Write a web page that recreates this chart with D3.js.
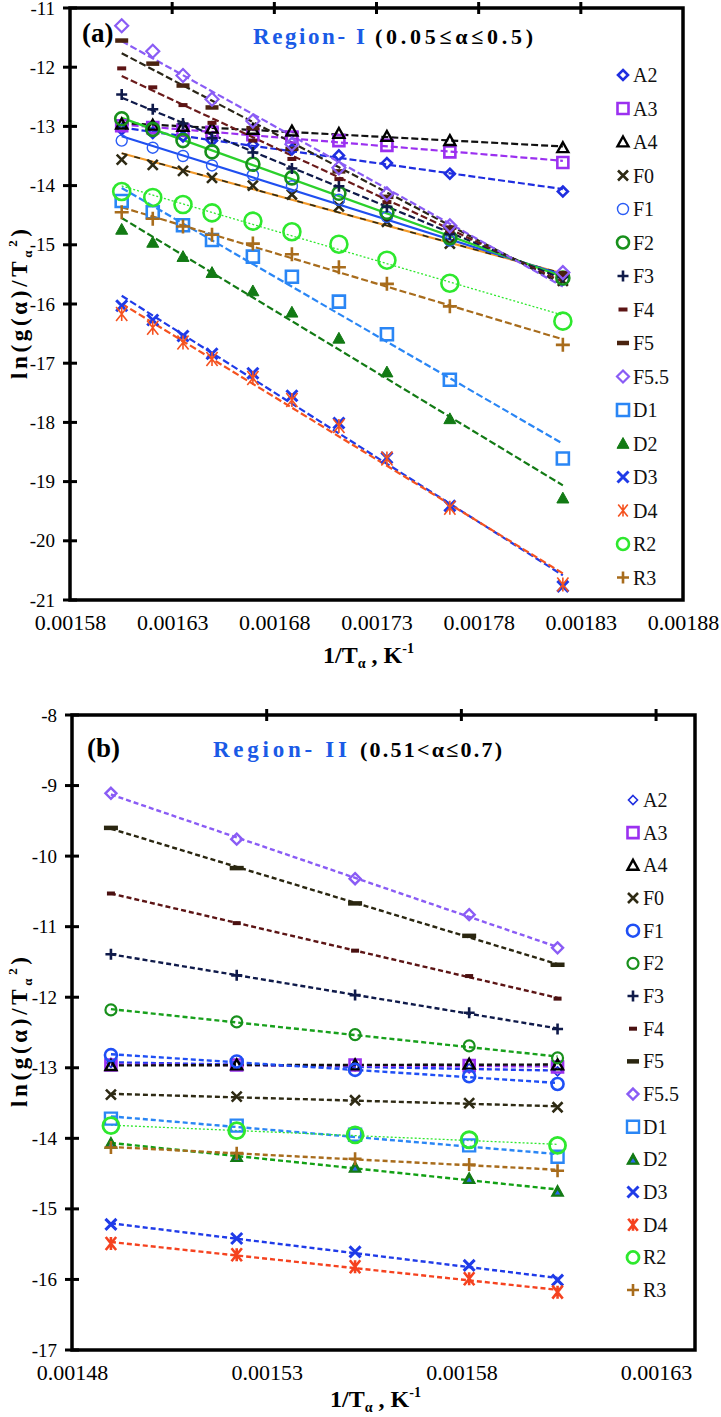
<!DOCTYPE html>
<html><head><meta charset="utf-8">
<script src="https://cdn.jsdelivr.net/npm/d3@7"></script>
<style>body{margin:0;background:#fff}svg{display:block}</style>
</head><body>
<svg id="chart" width="721" height="1417"></svg>
<script>
// ---------- DATA ----------
const seriesNames = ["A2","A3","A4","F0","F1","F2","F3","F4","F5","F5.5","D1","D2","D3","D4","R2","R3"];

// Panel (a) Region I
const xTickValuesA = [0.00158,0.00163,0.00168,0.00173,0.00178,0.00183,0.00188];
const xTickLabelsA = ["0.00158","0.00163","0.00168","0.00173","0.00178","0.00183","0.00188"];
const yTickValuesA = [-11,-12,-13,-14,-15,-16,-17,-18,-19,-20,-21];
const invTA = [0.0016053,0.0016205,0.0016353,0.0016495,0.0016695,0.0016886,0.0017116,0.0017351,0.0017659,0.0018212];
const aA2  = [-13.05,-13.11,-13.17,-13.24,-13.31,-13.39,-13.49,-13.62,-13.80,-14.10];
const aA3  = [-12.99,-13.02,-13.06,-13.10,-13.14,-13.18,-13.24,-13.32,-13.43,-13.61];
const aA4  = [-12.96,-12.98,-13.00,-13.03,-13.05,-13.08,-13.12,-13.17,-13.24,-13.36];
const aF0  = [-13.56,-13.65,-13.75,-13.87,-14.00,-14.15,-14.35,-14.61,-14.98,-15.61];
const aF1  = [-13.24,-13.36,-13.50,-13.66,-13.82,-14.01,-14.24,-14.53,-14.93,-15.59];
const aF2  = [-12.87,-13.05,-13.24,-13.43,-13.64,-13.87,-14.13,-14.45,-14.88,-15.56];
const aF3  = [-12.46,-12.71,-12.95,-13.20,-13.44,-13.71,-14.01,-14.36,-14.82,-15.54];
const aF4  = [-12.02,-12.34,-12.64,-12.94,-13.24,-13.55,-13.89,-14.28,-14.77,-15.51];
const aF5  = [-11.55,-11.94,-12.31,-12.68,-13.03,-13.38,-13.76,-14.19,-14.71,-15.48];
const aF55 = [-11.30,-11.73,-12.14,-12.54,-12.91,-13.30,-13.70,-14.14,-14.68,-15.47];
const aD1  = [-14.26,-14.45,-14.67,-14.92,-15.20,-15.54,-15.96,-16.51,-17.28,-18.61];
const aD2  = [-14.74,-14.96,-15.20,-15.47,-15.78,-16.14,-16.58,-17.15,-17.94,-19.28];
const aD3  = [-16.03,-16.27,-16.54,-16.84,-17.17,-17.55,-18.01,-18.60,-19.41,-20.77];
const aD4  = [-16.17,-16.40,-16.65,-16.93,-17.25,-17.62,-18.06,-18.61,-19.44,-20.74];
const aR2  = [-14.10,-14.20,-14.32,-14.46,-14.60,-14.78,-14.99,-15.26,-15.65,-16.29];
const aR3  = [-14.45,-14.56,-14.69,-14.83,-14.98,-15.16,-15.38,-15.66,-16.04,-16.69];

// Panel (b) Region II
const xTickValuesB = [0.00148,0.00153,0.00158,0.00163];
const xTickLabelsB = ["0.00148","0.00153","0.00158","0.00163"];
const yTickValuesB = [-8,-9,-10,-11,-12,-13,-14,-15,-16,-17];
const invTB = [0.00149,0.0015223,0.0015527,0.001582,0.0016047];
const bA2  = [-12.93,-12.95,-12.98,-13.01,-13.05];
const bA3  = [-12.96,-12.96,-12.96,-12.97,-12.99];
const bA4  = [-12.97,-12.96,-12.96,-12.95,-12.96];
const bF0  = [-13.38,-13.41,-13.46,-13.50,-13.56];
const bF1  = [-12.82,-12.91,-13.03,-13.12,-13.23];
const bF2  = [-12.18,-12.35,-12.53,-12.69,-12.86];
const bF3  = [-11.39,-11.69,-11.97,-12.22,-12.45];
const bF4  = [-10.53,-10.95,-11.34,-11.70,-12.02];
const bF5  = [-9.60,-10.17,-10.67,-11.13,-11.54];
const bF55 = [-9.11,-9.76,-10.32,-10.83,-11.30];
const bD1  = [-13.72,-13.82,-13.95,-14.10,-14.26];
const bD2  = [-14.07,-14.26,-14.41,-14.57,-14.75];
const bD3  = [-15.22,-15.42,-15.61,-15.80,-16.01];
const bD4  = [-15.49,-15.65,-15.82,-15.99,-16.18];
const bR2  = [-13.82,-13.89,-13.95,-14.02,-14.10];
const bR3  = [-14.13,-14.21,-14.29,-14.37,-14.46];

// ---------- STYLES ----------
const serif = "Liberation Serif, Times New Roman, serif";
const stylesA = {
  "A2":  {m:"diamond", s:5,   c:"#1f2ee0", sw:2.6, lc:"#1f2ee0", dash:"7,3"},
  "A3":  {m:"square",  s:5.5, c:"#9b30f0", sw:2.6, lc:"#9b30f0", dash:"7,3"},
  "A4":  {m:"triangle",s:5.5, c:"#000000", sw:2.4, lc:"#111111", dash:"7,3"},
  "F0":  {m:"x",       s:5,   c:"#2e2a14", sw:2.6, lc:"#f39a2a", dash:null, extra:"#2e2a14"},
  "F1":  {m:"circle",  s:5.5, c:"#2a5cf5", sw:1.4, lc:"#1f4ff0", dash:null},
  "F2":  {m:"circle",  s:6.5, c:"#18901c", sw:2.6, lc:"#2bd02b", dash:null},
  "F3":  {m:"plus",    s:5.5, c:"#0f1a4a", sw:2.6, lc:"#0f1a4a", dash:"7,3"},
  "F4":  {m:"dash",    s:4.5, c:"#5c1414", sw:4,   lc:"#6a1a1a", dash:"7,3"},
  "F5":  {m:"dash",    s:6.5, c:"#4a2410", sw:4.5, lc:"#2a2618", dash:"7,3"},
  "F5.5":{m:"diamond", s:6.5, c:"#8a5cf5", sw:2.2, lc:"#8a5cf5", dash:"7,3"},
  "D1":  {m:"square",  s:6,   c:"#2a86f5", sw:2.6, lc:"#2a86f5", dash:"7,3"},
  "D2":  {m:"triFill", s:6,   c:"#127a14", sw:1,   lc:"#127a14", dash:"7,3"},
  "D3":  {m:"x",       s:5.5, c:"#1f3be8", sw:3,   lc:"#1f3be8", dash:"7,3"},
  "D4":  {m:"asterisk",s:7,   c:"#f5521f", sw:1.6, lc:"#f5521f", dash:"7,3"},
  "R2":  {m:"circle",  s:8.5, c:"#2ee82e", sw:2.6, lc:"#2ee82e", dash:"2,2", lw:1.3},
  "R3":  {m:"plus",    s:7,   c:"#a86c1c", sw:2.6, lc:"#a86c1c", dash:"7,3"}
};
const stylesB = {
  "A2":  {m:"diamond", s:4.5, c:"#1f2ee0", sw:1.6, lc:"#1f3ef0", dash:"5,3"},
  "A3":  {m:"square",  s:5.5, c:"#9b30f0", sw:2.6, lc:"#9b30f0", dash:"5,3"},
  "A4":  {m:"triangle",s:5.5, c:"#000000", sw:2.4, lc:"#111111", dash:"5,3"},
  "F0":  {m:"x",       s:5,   c:"#2e2a14", sw:2.6, lc:"#2e2a14", dash:"5,3"},
  "F1":  {m:"circle",  s:6,   c:"#1f4ff5", sw:2.6, lc:"#1f4ff5", dash:"5,3"},
  "F2":  {m:"circle",  s:5.5, c:"#18901c", sw:2.2, lc:"#18a01c", dash:"5,3"},
  "F3":  {m:"plus",    s:5.5, c:"#0f1a4a", sw:2.6, lc:"#0f1a4a", dash:"5,3"},
  "F4":  {m:"dash",    s:4,   c:"#4a1010", sw:4,   lc:"#5c1414", dash:"5,3"},
  "F5":  {m:"dash",    s:7,   c:"#2a2610", sw:4.5, lc:"#2a2610", dash:"5,3"},
  "F5.5":{m:"diamond", s:5.5, c:"#8a5cf5", sw:2.4, lc:"#8a5cf5", dash:"5,3"},
  "D1":  {m:"square",  s:6,   c:"#2a86f5", sw:2.4, lc:"#2a86f5", dash:"5,3"},
  "D2":  {m:"triFill", s:6,   c:"#127a14", sw:1.2, lc:"#12a014", dash:"5,3", inner:"#2a6af0"},
  "D3":  {m:"x",       s:5.5, c:"#1f3be8", sw:3,   lc:"#1f3be8", dash:"5,3"},
  "D4":  {m:"asterisk",s:6.5, c:"#f5421f", sw:2.6, lc:"#f5421f", dash:"5,3"},
  "R2":  {m:"circle",  s:8,   c:"#2ee82e", sw:2.8, lc:"#2ee82e", dash:"2,2", lw:1.3},
  "R3":  {m:"plus",    s:6.5, c:"#a86c1c", sw:2.6, lc:"#a86c1c", dash:"5,3"}
};

const panels = [
  {
    id:"a", label:"(a)", region:"Region- I", range:"(0.05\u2264\u03b1\u22640.5)",
    x0:70, x1:683, y0:8, y1:600,
    xDomain:[0.00158,0.00188], yDomain:[-21,-11],
    xTicks:xTickValuesA, xLabels:xTickLabelsA, yTicks:yTickValuesA,
    xs:invTA,
    ys:[aA2,aA3,aA4,aF0,aF1,aF2,aF3,aF4,aF5,aF55,aD1,aD2,aD3,aD4,aR2,aR3],
    styles:stylesA, lineW:2.2,
    legX:623, legY0:75, legDy:33.5,
    labelPos:{ax:82, ay:42, rx:253, rw:112, gx:375, gw:158, ty:44},
    yTitleY:304, xTitleDy:63
  },
  {
    id:"b", label:"(b)", region:"Region- II", range:"(0.51<\u03b1\u22640.7)",
    x0:72, x1:695, y0:715, y1:1350,
    xDomain:[0.00148,0.00164], yDomain:[-17,-8],
    xTicks:xTickValuesB, xLabels:xTickLabelsB, yTicks:yTickValuesB,
    xs:invTB,
    ys:[bA2,bA3,bA4,bF0,bF1,bF2,bF3,bF4,bF5,bF55,bD1,bD2,bD3,bD4,bR2,bR3],
    styles:stylesB, lineW:2.4,
    legX:633, legY0:800, legDy:32.67,
    labelPos:{ax:87, ay:757, rx:213, rw:134, gx:360, gw:142, ty:757},
    yTitleY:1032, xTitleDy:57
  }
];

// ---------- DRAW ----------
const svg = d3.select("#chart");
svg.append("rect").attr("width",721).attr("height",1417).attr("fill","#fff");

function drawMarker(g, st, cx, cy) {
  const s = st.s;
  const t = `translate(${cx},${cy})`;
  let p;
  switch (st.m) {
    case "circle":
      g.append("circle").attr("cx",cx).attr("cy",cy).attr("r",s)
        .attr("fill","none").attr("stroke",st.c).attr("stroke-width",st.sw);
      return;
    case "dash":
      g.append("rect").attr("x",cx-s).attr("y",cy-st.sw/2).attr("width",2*s).attr("height",st.sw)
        .attr("fill",st.c);
      return;
    case "diamond": p = `M0,${-s}L${s},0L0,${s}L${-s},0Z`; break;
    case "square": p = `M${-s},${-s}H${s}V${s}H${-s}Z`; break;
    case "triangle": p = `M0,${-s}L${s},${s*0.8}L${-s},${s*0.8}Z`; break;
    case "triFill": p = `M0,${-s}L${s},${s*0.8}L${-s},${s*0.8}Z`; break;
    case "x": p = `M${-s},${-s}L${s},${s}M${-s},${s}L${s},${-s}`; break;
    case "plus": p = `M${-s},0H${s}M0,${-s}V${s}`; break;
    case "asterisk": p = `M${-s*0.8},${-s}L${s*0.8},${s}M${-s*0.8},${s}L${s*0.8},${-s}M0,${-s}V${s}`; break;
  }
  const el = g.append("path").attr("d",p).attr("transform",t)
    .attr("stroke",st.c).attr("stroke-width",st.sw).attr("stroke-linejoin","miter");
  if (st.m === "triFill") {
    el.attr("fill",st.c);
    if (st.inner) {
      const q = s*0.45;
      g.append("path").attr("d",`M0,${-q*0.4}L${q},${q*1.2}L${-q},${q*1.2}Z`).attr("transform",t).attr("fill",st.inner);
    }
  } else el.attr("fill","none");
}

function fit(xs, ys) {
  const n = xs.length, mx = d3.mean(xs), my = d3.mean(ys);
  let sxy = 0, sxx = 0;
  for (let i=0;i<n;i++){ sxy += (xs[i]-mx)*(ys[i]-my); sxx += (xs[i]-mx)*(xs[i]-mx); }
  const b = sxy/sxx; return {b, a: my - b*mx};
}

panels.forEach(P => {
  const g = svg.append("g");
  const x = d3.scaleLinear().domain(P.xDomain).range([P.x0, P.x1]);
  const y = d3.scaleLinear().domain(P.yDomain).range([P.y1, P.y0]);

  // Trendlines
  const lines = g.append("g");
  seriesNames.forEach((name, i) => {
    const st = P.styles[name];
    const ys = P.ys[i];
    const f = fit(P.xs, ys);
    const xa = d3.min(P.xs), xb = d3.max(P.xs);
    const pts = [[xa, f.a + f.b*xa],[xb, f.a + f.b*xb]];
    const line = d3.line().x(d=>x(d[0])).y(d=>y(d[1]));
    lines.append("path").attr("d", line(pts)).attr("fill","none")
      .attr("stroke", st.lc).attr("stroke-width", st.lw || P.lineW)
      .attr("stroke-dasharray", st.dash);
    if (st.extra) {
      lines.append("path").attr("d", line(pts)).attr("fill","none")
        .attr("stroke", st.extra).attr("stroke-width", 1.6).attr("stroke-dasharray","6,7");
    }
  });

  // Markers
  const marks = g.append("g");
  seriesNames.forEach((name, i) => {
    const st = P.styles[name];
    P.ys[i].forEach((v, j) => drawMarker(marks, st, x(P.xs[j]), y(v)));
  });

  // Frame
  g.append("rect").attr("x",P.x0).attr("y",P.y0).attr("width",P.x1-P.x0).attr("height",P.y1-P.y0)
    .attr("fill","none").attr("stroke","#000").attr("stroke-width",3.5);

  // Y axis labels + crossing ticks
  const yAxis = d3.axisLeft(y).tickValues(P.yTicks).tickSize(0).tickFormat(d => String(d));
  const ya = g.append("g").attr("transform",`translate(${P.x0},0)`).call(yAxis)
    .attr("font-family",serif).attr("font-size",19);
  ya.select(".domain").remove();
  ya.selectAll("text").attr("x",-15).attr("fill","#000");
  P.yTicks.forEach(t => {
    g.append("line").attr("x1",P.x0-7).attr("x2",P.x0+7).attr("y1",y(t)).attr("y2",y(t))
      .attr("stroke","#000").attr("stroke-width",3);
  });

  // X axis labels at bottom, ticks on top border
  const xAxis = d3.axisBottom(x).tickValues(P.xTicks).tickSize(0).tickFormat((d,i)=>P.xLabels[i]);
  const xa = g.append("g").attr("transform",`translate(0,${P.y1})`).call(xAxis)
    .attr("font-family",serif).attr("font-size",22);
  xa.select(".domain").remove();
  xa.selectAll("text").attr("y",14).attr("fill","#000");
  P.xTicks.forEach(t => {
    if (x(t) > P.x0+2 && x(t) < P.x1-2)
      g.append("line").attr("x1",x(t)).attr("x2",x(t)).attr("y1",P.y0-6).attr("y2",P.y0+6)
        .attr("stroke","#000").attr("stroke-width",3);
  });

  // Axis titles
  const xt = g.append("text").attr("x",(P.x0+P.x1)/2 - 8).attr("y",P.y1+P.xTitleDy)
    .attr("text-anchor","middle").attr("font-family",serif).attr("font-weight","bold").attr("font-size",24).attr("fill","#000");
  xt.append("tspan").text("1/T");
  xt.append("tspan").attr("font-size",14).attr("dy",5).text("\u03b1");
  xt.append("tspan").attr("dy",-5).text(" , K");
  xt.append("tspan").attr("font-size",14).attr("dy",-10).text("-1");

  const yt = g.append("text").attr("transform",`translate(27,${P.yTitleY}) rotate(-90)`)
    .attr("text-anchor","middle").attr("font-family",serif).attr("font-weight","bold").attr("font-size",23)
    .attr("fill","#000").attr("textLength",150).attr("lengthAdjust","spacing");
  yt.append("tspan").text("ln(g(\u03b1)/T");
  yt.append("tspan").attr("font-size",13).attr("dy",5).text("\u03b1");
  yt.append("tspan").attr("font-size",13).attr("dy",-15).text("2");
  yt.append("tspan").attr("dy",10).text(")");

  // Panel labels
  const L = P.labelPos;
  g.append("text").attr("x",L.ax).attr("y",L.ay).attr("font-family",serif).attr("font-weight","bold")
    .attr("font-size",27).attr("fill","#000").text(P.label);
  g.append("text").attr("x",L.rx).attr("y",L.ty).attr("font-family",serif).attr("font-weight","bold")
    .attr("font-size",23).attr("fill","#1a5ae6").attr("textLength",L.rw).attr("lengthAdjust","spacing").text(P.region);
  g.append("text").attr("x",L.gx).attr("y",L.ty).attr("font-family",serif).attr("font-weight","bold")
    .attr("font-size",22).attr("fill","#000").attr("textLength",L.gw).attr("lengthAdjust","spacing").text(P.range);

  // Legend
  const lg = g.append("g");
  seriesNames.forEach((name, i) => {
    const st = P.styles[name];
    const cy = P.legY0 + i*P.legDy;
    drawMarker(lg, Object.assign({}, st, {s: Math.min(st.s, 6)}), P.legX, cy);
    lg.append("text").attr("x",P.legX+10).attr("y",cy).attr("dy","0.35em")
      .attr("font-family",serif).attr("font-size",20).attr("fill","#111").text(name);
  });
});
</script>
</body></html>
